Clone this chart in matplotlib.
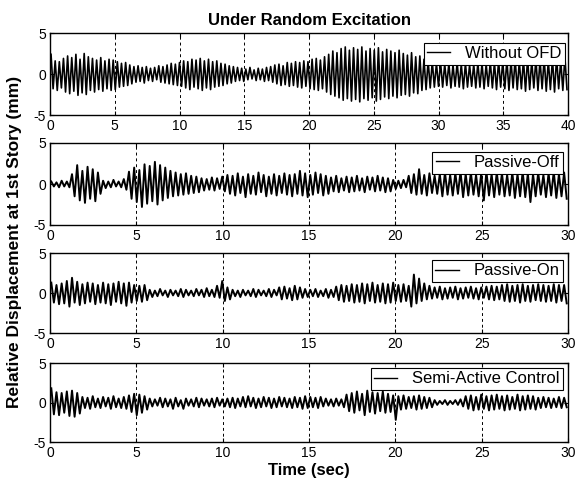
import numpy as np
import matplotlib
matplotlib.use("Agg")
import matplotlib.pyplot as plt

plt.rcParams['font.family'] = ['Liberation Sans', 'DejaVu Sans']
plt.rcParams['axes.unicode_minus'] = False

# ---------------- data (peak values, mm) ----------------
title_text = "Under Random Excitation"
ylabel_text = "Relative Displacement at 1st Story (mm)"
xlabel_text = "Time (sec)"
legend_labels = ["Without OFD", "Passive-Off", "Passive-On", "Semi-Active Control"]
x_ends = [40, 30, 30, 30]
x_ticks_p1 = [0, 5, 10, 15, 20, 25, 30, 35, 40]
x_ticks_other = [0, 5, 10, 15, 20, 25, 30]
y_ticks = [-5, 0, 5]
cycle_period = [0.32, 0.3, 0.3, 0.3]   # seconds between successive upper peaks

# Panel 1: Without OFD (0-40 s)
p1_up = [2.4, 1.6, 1.5, 1.9, 2.2, 2.0, 2.4, 1.8, 2.5, 2.1,
         1.9, 1.7, 2.0, 1.6, 1.8, 1.7, 1.5, 1.3, 1.4, 1.1,
         0.9, 1.0, 0.8, 0.9, 0.7, 0.8, 1.0, 0.9, 1.1, 1.3,
         1.2, 1.4, 1.6, 1.5, 1.8, 1.7, 1.9, 1.6, 1.8, 1.5,
         1.6, 1.3, 1.2, 1.0, 0.9, 0.8, 0.7, 0.6, 0.8, 0.5,
         0.7, 0.6, 0.8, 0.9, 1.1, 1.2, 1.0, 1.4, 1.3, 1.5,
         1.4, 1.6, 1.5, 1.8, 1.9, 1.7, 2.1, 2.4, 2.8, 2.6,
         3.1, 3.3, 2.9, 3.2, 3.0, 3.3, 2.8, 3.1, 2.9, 3.2,
         2.7, 3.0, 2.8, 2.6, 2.9, 2.5, 2.3, 2.6, 2.1, 2.2,
         1.8, 1.6, 1.5, 1.3, 1.4, 1.2, 1.3, 1.1, 1.4, 1.2,
         1.3, 1.1, 1.2, 1.4, 1.3, 1.2, 1.5, 1.4, 1.6, 1.5,
         1.7, 1.6, 1.8, 1.5, 1.7, 1.9, 1.6, 1.8, 1.7, 1.9,
         1.6, 1.8, 2.0, 1.7, 2.1]
p1_down = [-1.8, -2.0, -1.7, -2.2, -2.4, -2.1, -2.6, -2.3, -2.5, -2.0,
           -2.2, -1.9, -2.1, -1.8, -2.0, -1.9, -1.6, -1.5, -1.4, -1.2,
           -1.0, -0.9, -1.1, -0.8, -0.9, -0.7, -1.0, -1.1, -1.2, -1.3,
           -1.4, -1.5, -1.7, -1.9, -1.6, -1.8, -2.0, -1.7, -1.9, -1.6,
           -1.5, -1.4, -1.2, -1.1, -0.9, -0.8, -0.9, -0.7, -0.6, -0.8,
           -0.7, -0.9, -0.8, -1.0, -1.2, -1.4, -1.3, -1.5, -1.4, -1.6,
           -1.7, -1.5, -1.8, -1.9, -2.0, -1.8, -2.2, -2.5, -2.7, -2.9,
           -3.2, -3.0, -3.3, -3.1, -3.4, -3.0, -3.2, -2.9, -3.3, -3.1,
           -2.8, -3.0, -2.7, -2.9, -2.6, -2.5, -2.7, -2.3, -2.4, -2.0,
           -1.9, -1.7, -1.6, -1.5, -1.6, -1.4, -1.7, -1.5, -1.6, -1.8,
           -1.6, -1.5, -1.7, -1.6, -1.8, -1.5, -1.7, -1.9, -1.6, -1.8,
           -2.0, -1.7, -1.9, -1.8, -2.1, -1.9, -1.7, -2.0, -1.8, -2.1,
           -1.9, -2.2, -1.8, -2.0, -1.9]

# Panel 2: Passive-Off (0-30 s)
p2_up = [0.3, 0.2, 0.4, 0.3, 1.2, 2.3, 1.6, 2.1, 1.8, 1.4,
         0.4, 0.3, 0.5, 0.3, 0.6, 1.5, 2.0, 1.7, 2.4, 2.2,
         2.7, 2.3, 2.0, 1.6, 1.4, 1.2, 1.3, 1.0, 0.9, 0.7,
         0.6, 0.8, 0.7, 0.9, 1.1, 1.0, 1.3, 0.9, 1.2, 1.0,
         1.4, 1.1, 0.9, 1.2, 1.0, 1.3, 1.1, 1.2, 1.6, 1.3,
         1.1, 1.4, 1.2, 1.0, 0.8, 1.0, 0.7, 0.9, 0.8, 1.0,
         0.7, 0.9, 0.8, 1.0, 0.8, 0.7, 0.5, 0.4, 0.5, 1.0,
         1.2, 1.8, 1.1, 1.3, 1.0, 1.2, 1.4, 1.1, 1.3, 1.5,
         1.2, 1.4, 1.1, 1.3, 1.5, 1.2, 1.4, 1.3, 1.1, 1.4,
         1.2, 1.5, 1.3, 1.2, 1.4, 1.1, 1.3, 1.5, 1.2, 1.4]
p2_down = [-0.3, -0.4, -0.3, -0.4, -1.5, -2.0, -2.3, -1.8, -2.1, -1.2,
           -0.5, -0.4, -0.3, -0.4, -0.7, -1.8, -2.2, -2.8, -2.4, -2.1,
           -2.5, -2.0, -1.7, -1.5, -1.4, -1.3, -1.2, -1.1, -1.0, -0.8,
           -0.7, -0.8, -0.6, -0.9, -1.2, -1.4, -1.1, -1.6, -1.2, -1.3,
           -1.0, -1.5, -1.2, -1.4, -1.1, -1.3, -1.5, -1.2, -1.4, -1.6,
           -1.3, -1.1, -1.4, -1.2, -0.9, -1.0, -0.8, -1.0, -0.9, -0.8,
           -1.0, -0.7, -0.9, -0.8, -1.0, -0.9, -0.6, -0.5, -0.4, -1.1,
           -1.3, -1.2, -1.4, -1.1, -1.2, -1.5, -1.3, -1.4, -1.2, -1.6,
           -1.4, -1.3, -1.5, -2.0, -1.4, -1.6, -1.3, -1.5, -1.4, -1.7,
           -1.5, -1.6, -2.2, -1.5, -1.3, -1.6, -1.4, -1.7, -1.5, -1.8]

# Panel 3: Passive-On (0-30 s)
p3_up = [1.3, 1.0, 1.2, 1.5, 1.9, 1.4, 1.1, 1.3, 1.2, 1.0,
         1.3, 1.1, 1.2, 1.4, 1.2, 1.3, 1.0, 0.9, 1.0, 0.4,
         0.3, 0.5, 0.3, 0.4, 0.3, 0.5, 0.4, 0.3, 0.5, 0.4,
         0.6, 0.4, 0.9, 1.5, 0.7, 0.4, 0.3, 0.4, 0.3, 0.5,
         0.4, 0.3, 0.5, 0.4, 0.7, 0.8, 0.6, 0.9, 0.7, 0.5,
         0.4, 0.5, 0.3, 0.5, 0.4, 0.8, 1.0, 0.9, 1.1, 1.0,
         1.2, 1.1, 1.3, 1.0, 1.2, 1.1, 1.3, 1.0, 1.1, 0.9,
         2.3, 1.8, 1.2, 0.9, 0.7, 0.8, 0.6, 0.7, 0.8, 0.6,
         0.7, 0.8, 0.6, 0.7, 0.8, 0.9, 0.8, 1.0, 1.1, 0.9,
         1.0, 1.1, 0.9, 1.0, 1.1, 1.0, 0.9, 1.1, 1.0, 1.0]
p3_down = [-1.2, -1.4, -1.3, -1.7, -1.2, -1.5, -1.3, -1.1, -1.4, -1.2,
           -1.3, -1.5, -1.1, -1.3, -1.6, -1.2, -1.0, -1.1, -0.9, -0.5,
           -0.4, -0.3, -0.5, -0.3, -0.4, -0.5, -0.3, -0.4, -0.3, -0.5,
           -0.4, -0.5, -0.6, -1.0, -0.8, -0.4, -0.5, -0.3, -0.4, -0.5,
           -0.3, -0.4, -0.5, -0.3, -0.8, -0.7, -0.9, -0.8, -0.6, -0.5,
           -0.4, -0.5, -0.4, -0.6, -0.5, -0.9, -1.1, -1.0, -1.2, -1.1,
           -1.3, -1.0, -1.2, -1.1, -1.3, -1.2, -1.0, -1.1, -1.0, -1.7,
           -1.3, -1.0, -0.8, -0.7, -0.6, -0.8, -0.7, -0.6, -0.8, -0.7,
           -0.6, -0.7, -0.8, -0.6, -0.8, -0.9, -0.8, -1.0, -1.1, -1.0,
           -1.2, -1.0, -1.1, -0.9, -1.0, -1.1, -1.0, -1.2, -1.0, -1.3]

# Panel 4: Semi-Active Control (0-30 s)
p4_up = [1.8, 1.3, 1.2, 1.4, 1.5, 1.2, 0.7, 0.6, 0.8, 0.5,
         0.7, 0.6, 0.8, 0.5, 0.7, 0.9, 1.1, 1.0, 0.8, 0.5,
         0.4, 0.6, 0.5, 0.4, 0.6, 0.3, 0.5, 0.4, 0.6, 0.5,
         0.4, 0.5, 0.6, 0.4, 0.5, 0.6, 0.5, 0.7, 0.8, 0.6,
         0.5, 0.7, 0.6, 0.5, 0.7, 0.6, 0.5, 0.7, 0.6, 0.8,
         0.7, 0.6, 0.7, 0.5, 0.4, 0.5, 0.4, 1.0, 1.2, 1.4,
         1.1, 1.5, 1.3, 1.2, 1.4, 1.1, 0.9, 0.8, 0.9, 0.7,
         0.8, 0.9, 0.7, 0.6, 0.3, 0.2, 0.3, 0.2, 0.3, 0.4,
         0.8, 0.9, 0.7, 1.0, 0.8, 0.9, 1.0, 0.8, 0.9, 0.7,
         1.0, 0.8, 0.9, 0.8, 0.6, 0.7, 0.6, 0.5, 0.7, 0.6]
p4_down = [-1.5, -1.6, -1.3, -1.7, -1.8, -1.4, -0.7, -0.8, -0.6, -0.7,
           -0.5, -0.8, -0.6, -0.7, -0.8, -1.2, -1.6, -1.3, -0.9, -0.5,
           -0.4, -0.6, -0.5, -0.8, -0.5, -0.8, -0.4, -0.5, -0.6, -0.4,
           -0.5, -0.6, -0.4, -0.5, -0.6, -0.7, -0.5, -0.6, -0.5, -0.7,
           -0.6, -0.5, -0.7, -0.6, -0.5, -0.6, -0.7, -0.6, -0.8, -0.7,
           -0.6, -0.7, -0.5, -0.4, -0.5, -0.4, -0.6, -1.1, -1.3, -1.0,
           -1.6, -1.2, -1.4, -1.1, -1.3, -1.2, -2.2, -0.9, -0.8, -0.7,
           -0.9, -0.8, -0.7, -0.6, -0.3, -0.2, -0.3, -0.2, -0.3, -0.5,
           -0.8, -1.0, -0.9, -0.8, -1.0, -0.9, -0.8, -1.0, -0.9, -0.8,
           -1.0, -0.9, -0.8, -0.9, -0.7, -0.6, -0.7, -0.6, -0.7, -0.6]

ups = [p1_up, p2_up, p3_up, p4_up]
downs = [p1_down, p2_down, p3_down, p4_down]

# ---------------- figure ----------------
W, H = 579, 490
fig = plt.figure(figsize=(W / 100, H / 100), dpi=100)

left_px, right_px = 50, 568
panel_px = [(33, 115), (143, 225), (253, 333), (363, 442)]
legend_right_px = [565, 563, 563, 563]
legend_top_px = [43, 152, 260, 368]
line_widths = [1.2, 1.4, 1.4, 1.4]

for i in range(4):
    top, bot = panel_px[i]
    ax = fig.add_axes([left_px / W, 1 - bot / H, (right_px - left_px) / W, (bot - top) / H])
    up = np.asarray(ups[i])
    dn = np.asarray(downs[i])
    per = cycle_period[i]
    k = np.arange(len(up))
    t = np.empty(2 * len(up))
    y = np.empty(2 * len(up))
    t[0::2] = (k + 0.25) * per
    t[1::2] = (k + 0.75) * per
    y[0::2] = up
    y[1::2] = dn
    ax.plot(t, y, color='black', lw=line_widths[i], label=legend_labels[i])

    ax.set_xlim(0, x_ends[i])
    ax.set_ylim(-5, 5)
    ax.set_xticks(x_ticks_p1 if i == 0 else x_ticks_other)
    ax.set_yticks(y_ticks)
    ax.tick_params(direction='in', top=True, right=True, length=3, width=0.8,
                   labelsize=10, pad=3, colors='black')
    ax.grid(axis='x', color='black', linestyle=(0, (3, 3)), linewidth=0.7)
    for s in ax.spines.values():
        s.set_linewidth(1.0)
        s.set_color('black')

    bx = (legend_right_px[i] - left_px) / (right_px - left_px)
    by = (bot - legend_top_px[i]) / (bot - top)
    leg = ax.legend(loc='upper right', bbox_to_anchor=(bx, by), borderaxespad=0,
                    fontsize=12, frameon=True, fancybox=False, handlelength=1.4,
                    handletextpad=0.9, borderpad=0.2, framealpha=1)
    leg.get_frame().set_edgecolor('black')
    leg.get_frame().set_linewidth(0.8)
    for ln in leg.get_lines():
        ln.set_linewidth(1.0)

    if i == 0:
        ax.set_title(title_text, fontsize=12, fontweight='bold', pad=6)
    if i == 3:
        ax.set_xlabel(xlabel_text, fontsize=12, fontweight='bold', labelpad=2)

fig.text(15 / W, 1 - 242 / H, ylabel_text, rotation=90, ha='center', va='center',
         fontsize=12.5, fontweight='bold')

fig.savefig("out.png", dpi=100)
